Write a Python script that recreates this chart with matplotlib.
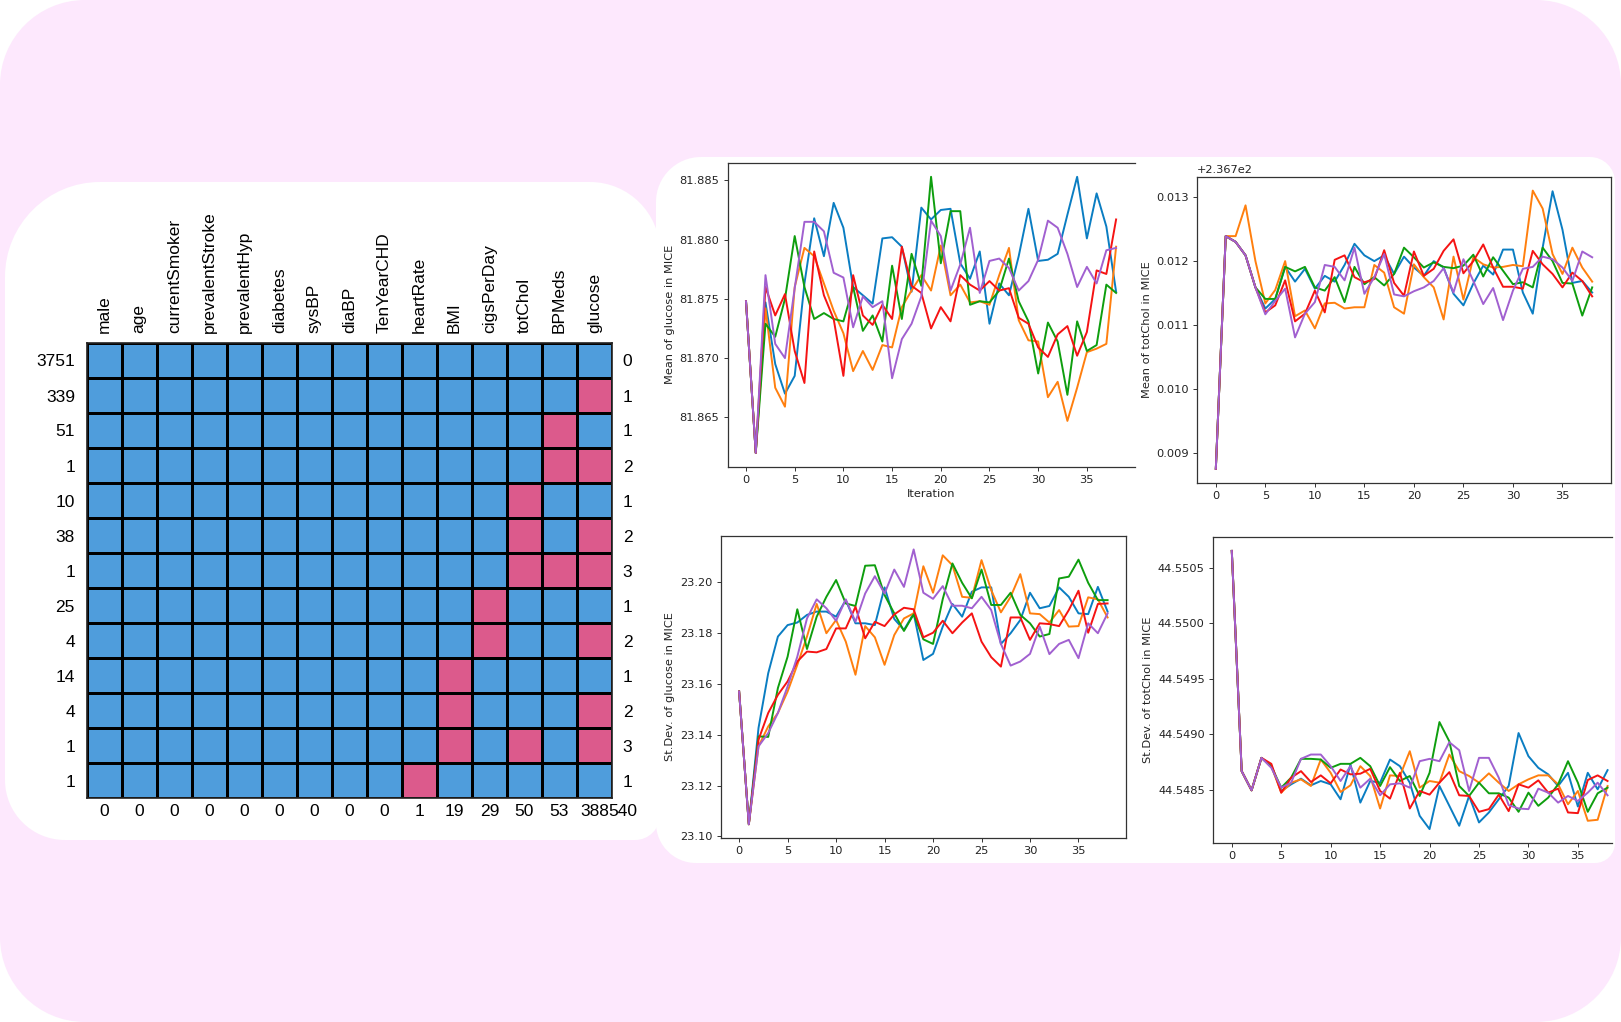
import numpy as np
import matplotlib
matplotlib.use("Agg")
import matplotlib.pyplot as plt
from matplotlib.path import Path
from matplotlib.patches import PathPatch
from matplotlib.colors import ListedColormap
from matplotlib.transforms import Affine2D

# ---------------- data ----------------
columns = ['male', 'age', 'currentSmoker', 'prevalentStroke', 'prevalentHyp',
           'diabetes', 'sysBP', 'diaBP', 'TenYearCHD', 'heartRate', 'BMI',
           'cigsPerDay', 'totChol', 'BPMeds', 'glucose']
pattern_counts = [3751, 339, 51, 1, 10, 38, 1, 25, 4, 14, 4, 1, 1]
pattern_missing = [[], ['glucose'], ['BPMeds'], ['BPMeds', 'glucose'],
                   ['totChol'], ['totChol', 'glucose'],
                   ['totChol', 'BPMeds', 'glucose'], ['cigsPerDay'],
                   ['cigsPerDay', 'glucose'], ['BMI'], ['BMI', 'glucose'],
                   ['BMI', 'totChol', 'glucose'], ['heartRate']]
row_missing = [0, 1, 1, 2, 1, 2, 3, 1, 2, 1, 2, 3, 1]
col_missing = [0, 0, 0, 0, 0, 0, 0, 0, 0, 1, 19, 29, 50, 53, 388]
total_missing = 540

iterations = list(range(39))

glucose_mean_blue = [81.8748, 81.8620, 81.8747, 81.8695, 81.8670, 81.8685, 81.8763, 81.8818, 81.8786, 81.8831, 81.8810, 81.8760, 81.8753, 81.8746, 81.8801, 81.8802, 81.8794, 81.8756, 81.8827, 81.8817, 81.8825, 81.8826, 81.8780, 81.8767, 81.8790, 81.8729, 81.8763, 81.8753, 81.8786, 81.8826, 81.8782, 81.8783, 81.8788, 81.8821, 81.8853, 81.8801, 81.8839, 81.8811, 81.8756]
glucose_mean_orange = [81.8748, 81.8620, 81.8742, 81.8675, 81.8659, 81.8760, 81.8793, 81.8786, 81.8763, 81.8740, 81.8721, 81.8689, 81.8706, 81.8690, 81.8711, 81.8709, 81.8743, 81.8757, 81.8770, 81.8757, 81.8795, 81.8753, 81.8762, 81.8747, 81.8748, 81.8745, 81.8770, 81.8793, 81.8732, 81.8715, 81.8714, 81.8667, 81.8680, 81.8647, 81.8675, 81.8705, 81.8708, 81.8712, 81.8794]
glucose_mean_green = [81.8748, 81.8620, 81.8729, 81.8718, 81.8750, 81.8803, 81.8760, 81.8733, 81.8738, 81.8733, 81.8731, 81.8760, 81.8723, 81.8736, 81.8714, 81.8778, 81.8733, 81.8788, 81.8761, 81.8853, 81.8780, 81.8824, 81.8824, 81.8745, 81.8748, 81.8747, 81.8757, 81.8784, 81.8748, 81.8731, 81.8687, 81.8730, 81.8714, 81.8669, 81.8731, 81.8706, 81.8711, 81.8762, 81.8755]
glucose_mean_red = [81.8748, 81.8620, 81.8760, 81.8736, 81.8754, 81.8706, 81.8679, 81.8790, 81.8753, 81.8733, 81.8685, 81.8770, 81.8736, 81.8728, 81.8745, 81.8733, 81.8794, 81.8761, 81.8755, 81.8725, 81.8743, 81.8731, 81.8770, 81.8762, 81.8757, 81.8765, 81.8757, 81.8759, 81.8734, 81.8729, 81.8709, 81.8701, 81.8720, 81.8727, 81.8702, 81.8722, 81.8774, 81.8771, 81.8817]
glucose_mean_purple = [81.8748, 81.8620, 81.8770, 81.8712, 81.8700, 81.8759, 81.8815, 81.8815, 81.8807, 81.8772, 81.8768, 81.8726, 81.8752, 81.8743, 81.8748, 81.8683, 81.8716, 81.8729, 81.8752, 81.8816, 81.8803, 81.8757, 81.8779, 81.8810, 81.8755, 81.8782, 81.8784, 81.8776, 81.8757, 81.8765, 81.8783, 81.8816, 81.8810, 81.8788, 81.8760, 81.8777, 81.8763, 81.8791, 81.8793]

totchol_mean_blue = [236.70876, 236.71239, 236.71230, 236.71209, 236.71159, 236.71126, 236.71141, 236.71191, 236.71168, 236.71188, 236.71157, 236.71177, 236.71168, 236.71194, 236.71227, 236.71209, 236.71200, 236.71209, 236.71180, 236.71207, 236.71190, 236.71177, 236.71200, 236.71190, 236.71149, 236.71131, 236.71165, 236.71193, 236.71179, 236.71218, 236.71218, 236.71151, 236.71118, 236.71221, 236.71309, 236.71249, 236.71166, 236.71169, 236.71151]
totchol_mean_orange = [236.70876, 236.71239, 236.71239, 236.71287, 236.71200, 236.71134, 236.71155, 236.71200, 236.71114, 236.71123, 236.71095, 236.71134, 236.71135, 236.71126, 236.71128, 236.71128, 236.71194, 236.71182, 236.71128, 236.71118, 236.71195, 236.71175, 236.71159, 236.71109, 236.71207, 236.71140, 236.71206, 236.71195, 236.71190, 236.71191, 236.71194, 236.71192, 236.71310, 236.71282, 236.71211, 236.71180, 236.71221, 236.71190, 236.71168]
totchol_mean_green = [236.70876, 236.71239, 236.71230, 236.71209, 236.71159, 236.71141, 236.71141, 236.71191, 236.71184, 236.71191, 236.71159, 236.71154, 236.71175, 236.71136, 236.71191, 236.71164, 236.71175, 236.71162, 236.71180, 236.71221, 236.71206, 236.71190, 236.71198, 236.71191, 236.71189, 236.71193, 236.71210, 236.71176, 236.71206, 236.71185, 236.71164, 236.71167, 236.71159, 236.71221, 236.71200, 236.71166, 236.71165, 236.71115, 236.71159]
totchol_mean_red = [236.70876, 236.71239, 236.71230, 236.71209, 236.71159, 236.71120, 236.71131, 236.71170, 236.71106, 236.71118, 236.71154, 236.71120, 236.71202, 236.71209, 236.71175, 236.71167, 236.71172, 236.71217, 236.71166, 236.71146, 236.71215, 236.71177, 236.71188, 236.71216, 236.71234, 236.71181, 236.71200, 236.71226, 236.71190, 236.71160, 236.71160, 236.71157, 236.71216, 236.71195, 236.71180, 236.71159, 236.71182, 236.71169, 236.71145]
totchol_mean_purple = [236.70876, 236.71239, 236.71230, 236.71209, 236.71159, 236.71117, 236.71138, 236.71157, 236.71081, 236.71118, 236.71136, 236.71194, 236.71191, 236.71170, 236.71221, 236.71149, 236.71175, 236.71211, 236.71148, 236.71145, 236.71153, 236.71159, 236.71169, 236.71189, 236.71151, 236.71203, 236.71169, 236.71133, 236.71158, 236.71108, 236.71154, 236.71188, 236.71191, 236.71207, 236.71203, 236.71190, 236.71169, 236.71215, 236.71206]

glucose_std_blue = [23.1569, 23.1048, 23.1426, 23.1641, 23.1785, 23.1830, 23.1840, 23.1870, 23.1883, 23.1883, 23.1863, 23.1928, 23.1837, 23.1837, 23.1830, 23.1978, 23.1854, 23.1811, 23.1876, 23.1693, 23.1717, 23.1824, 23.1913, 23.1863, 23.1961, 23.1978, 23.1978, 23.1756, 23.1798, 23.1850, 23.1957, 23.1896, 23.1905, 23.1978, 23.1941, 23.1876, 23.1873, 23.1980, 23.1883]
glucose_std_orange = [23.1569, 23.1048, 23.1354, 23.1432, 23.1485, 23.1569, 23.1674, 23.1785, 23.1913, 23.1798, 23.1850, 23.1765, 23.1635, 23.1826, 23.1782, 23.1674, 23.1791, 23.1856, 23.1876, 23.2061, 23.1957, 23.2104, 23.2065, 23.1941, 23.1937, 23.2085, 23.1967, 23.1880, 23.1941, 23.2030, 23.1876, 23.1873, 23.1840, 23.1889, 23.1824, 23.1826, 23.1939, 23.1931, 23.1860]
glucose_std_green = [23.1569, 23.1048, 23.1393, 23.1391, 23.1583, 23.1706, 23.1892, 23.1736, 23.1863, 23.1941, 23.2007, 23.1915, 23.1905, 23.2063, 23.2065, 23.1948, 23.1876, 23.1807, 23.1872, 23.1774, 23.1756, 23.1932, 23.2072, 23.1996, 23.1935, 23.2048, 23.1909, 23.1909, 23.1957, 23.1870, 23.1837, 23.1785, 23.1795, 23.2013, 23.2020, 23.2087, 23.1996, 23.1928, 23.1928]
glucose_std_red = [23.1569, 23.1048, 23.1380, 23.1485, 23.1556, 23.1609, 23.1687, 23.1726, 23.1723, 23.1736, 23.1817, 23.1817, 23.1902, 23.1778, 23.1843, 23.1826, 23.1872, 23.1898, 23.1892, 23.1782, 23.1800, 23.1847, 23.1798, 23.1840, 23.1876, 23.1765, 23.1704, 23.1667, 23.1860, 23.1860, 23.1772, 23.1837, 23.1834, 23.1826, 23.1889, 23.1965, 23.1800, 23.1913, 23.1915]
glucose_std_purple = [23.1569, 23.1048, 23.1354, 23.1406, 23.1485, 23.1589, 23.1706, 23.1856, 23.1931, 23.1896, 23.1847, 23.1931, 23.1843, 23.1954, 23.2022, 23.1954, 23.2048, 23.1980, 23.2127, 23.1957, 23.1933, 23.1983, 23.1906, 23.1906, 23.1896, 23.1941, 23.1889, 23.1756, 23.1671, 23.1687, 23.1717, 23.1824, 23.1716, 23.1756, 23.1772, 23.1700, 23.1837, 23.1798, 23.1876]

totchol_std_blue = [44.550655, 44.548667, 44.548494, 44.548787, 44.548712, 44.548488, 44.548548, 44.548599, 44.548539, 44.548578, 44.548548, 44.548413, 44.548727, 44.548383, 44.548578, 44.548563, 44.548772, 44.548712, 44.548563, 44.548264, 44.548144, 44.548533, 44.548354, 44.548174, 44.548443, 44.548204, 44.548294, 44.548413, 44.548533, 44.549011, 44.548802, 44.548697, 44.548638, 44.548533, 44.548652, 44.548348, 44.548652, 44.548503, 44.548676]
totchol_std_orange = [44.550655, 44.548667, 44.548494, 44.548787, 44.548712, 44.548473, 44.548563, 44.548593, 44.548533, 44.548772, 44.548652, 44.548479, 44.548539, 44.548712, 44.548623, 44.548330, 44.548629, 44.548623, 44.548847, 44.548518, 44.548578, 44.548563, 44.548817, 44.548667, 44.548623, 44.548563, 44.548647, 44.548563, 44.548488, 44.548548, 44.548593, 44.548629, 44.548629, 44.548548, 44.548368, 44.548488, 44.548219, 44.548228, 44.548533]
totchol_std_green = [44.550655, 44.548667, 44.548494, 44.548787, 44.548712, 44.548518, 44.548608, 44.548778, 44.548778, 44.548772, 44.548697, 44.548733, 44.548733, 44.548787, 44.548712, 44.548533, 44.548703, 44.548578, 44.548623, 44.548443, 44.548652, 44.549110, 44.548936, 44.548533, 44.548443, 44.548563, 44.548467, 44.548467, 44.548428, 44.548300, 44.548473, 44.548354, 44.548428, 44.548548, 44.548757, 44.548563, 44.548300, 44.548467, 44.548518]
totchol_std_red = [44.550655, 44.548667, 44.548494, 44.548787, 44.548733, 44.548473, 44.548608, 44.548667, 44.548569, 44.548629, 44.548557, 44.548682, 44.548638, 44.548644, 44.548688, 44.548488, 44.548419, 44.548652, 44.548330, 44.548488, 44.548455, 44.548563, 44.548658, 44.548449, 44.548443, 44.548300, 44.548324, 44.548455, 44.548306, 44.548548, 44.548518, 44.548584, 44.548473, 44.548509, 44.548294, 44.548288, 44.548587, 44.548629, 44.548578]
totchol_std_purple = [44.550655, 44.548667, 44.548494, 44.548787, 44.548697, 44.548518, 44.548563, 44.548778, 44.548817, 44.548817, 44.548712, 44.548578, 44.548712, 44.548518, 44.548599, 44.548449, 44.548548, 44.548557, 44.548518, 44.548757, 44.548778, 44.548757, 44.548928, 44.548856, 44.548488, 44.548787, 44.548787, 44.548608, 44.548360, 44.548330, 44.548324, 44.548509, 44.548473, 44.548383, 44.548443, 44.548398, 44.548473, 44.548563, 44.548449]

# ---------------- style ----------------
W, H = 1621, 1022
PINK_BG = '#fde8fd'
CELL_BLUE = '#4f9ddc'
CELL_PINK = '#dc5a8c'
line_colors = ['#0a7dc2', '#ff7f0e', '#0e9e0e', '#f51313', '#a160d0']

plt.rcParams.update({
    'font.family': ['DejaVu Sans'],
    'font.size': 8.2,
    'axes.linewidth': 0.9,
    'axes.edgecolor': '#333333',
    'xtick.major.size': 3.0, 'ytick.major.size': 3.0,
    'xtick.major.width': 0.7, 'ytick.major.width': 0.7,
    'xtick.major.pad': 2.9, 'ytick.major.pad': 2.9,
    'xtick.color': '#333333', 'ytick.color': '#333333',
    'xtick.labelcolor': '#222222', 'ytick.labelcolor': '#222222',
    'axes.labelpad': 3.3,
    'axes.labelcolor': '#222222',
})

fig = plt.figure(figsize=(W / 100, H / 100), dpi=100, facecolor='white')
px = Affine2D().scale(1.0 / W, 1.0 / H) + fig.transFigure


def panel(x0, y0, x1, y1, r_tl, r_tr, r_br, r_bl, color):
    k = 0.5523
    top, bot = H - y0, H - y1
    v = [(x0 + r_tl, top), (x1 - r_tr, top),
         (x1 - r_tr + k * r_tr, top), (x1, top - r_tr + k * r_tr), (x1, top - r_tr),
         (x1, bot + r_br),
         (x1, bot + r_br - k * r_br), (x1 - r_br + k * r_br, bot), (x1 - r_br, bot),
         (x0 + r_bl, bot),
         (x0 + r_bl - k * r_bl, bot), (x0, bot + r_bl - k * r_bl), (x0, bot + r_bl),
         (x0, top - r_tl),
         (x0, top - r_tl + k * r_tl), (x0 + r_tl - k * r_tl, top), (x0 + r_tl, top),
         (x0 + r_tl, top)]
    c = [Path.MOVETO, Path.LINETO,
         Path.CURVE4, Path.CURVE4, Path.CURVE4,
         Path.LINETO,
         Path.CURVE4, Path.CURVE4, Path.CURVE4,
         Path.LINETO,
         Path.CURVE4, Path.CURVE4, Path.CURVE4,
         Path.LINETO,
         Path.CURVE4, Path.CURVE4, Path.CURVE4,
         Path.CLOSEPOLY]
    p = PathPatch(Path(v, c), facecolor=color, edgecolor='none',
                  transform=px, zorder=-10)
    fig.add_artist(p)


panel(0, 0, W, H, 85, 85, 85, 85, PINK_BG)
panel(656, 157, 1615, 863, 45, 25, 20, 40, 'white')
panel(5, 182, 660, 840, 95, 70, 25, 60, 'white')

# ---------------- missing-pattern heatmap ----------------
hx0, hy0, hx1, hy1 = 86.7, 343, 612, 798
axh = fig.add_axes([hx0 / W, 1 - hy1 / H, (hx1 - hx0) / W, (hy1 - hy0) / H])
axh.patch.set_alpha(0)
M = np.array([[1 if c in miss else 0 for c in columns] for miss in pattern_missing])
axh.pcolormesh(M, cmap=ListedColormap([CELL_BLUE, CELL_PINK]), vmin=0, vmax=1,
               edgecolors='black', linewidth=1.0)
axh.set_xlim(0, len(columns))
axh.set_ylim(len(pattern_counts), 0)
for s in axh.spines.values():
    s.set_color('#222222')
    s.set_linewidth(1.2)

hfont = dict(family=['Liberation Sans', 'DejaVu Sans'], fontsize=12.5)
axh.xaxis.tick_top()
axh.set_xticks(np.arange(len(columns)) + 0.5)
axh.set_xticklabels(columns, rotation=90, **hfont)
axh.set_yticks(np.arange(len(pattern_counts)) + 0.5)
axh.set_yticklabels([str(n) for n in pattern_counts], **hfont)
axh.tick_params(axis='x', length=0, pad=7)
axh.tick_params(axis='y', length=0, pad=8.5)
for lab in axh.get_xticklabels() + axh.get_yticklabels():
    lab.set_color('black')

for i, n in enumerate(row_missing):
    axh.annotate(str(n), xy=(1, i + 0.5), xycoords=('axes fraction', 'data'),
                 xytext=(15.5, 0), textcoords='offset pixels',
                 ha='center', va='center_baseline', color='black', **hfont)
for j, n in enumerate(col_missing):
    axh.annotate(str(n), xy=(j + 0.5, 0), xycoords=('data', 'axes fraction'),
                 xytext=(0, -6), textcoords='offset pixels',
                 ha='center', va='top', color='black', **hfont)
axh.annotate(str(total_missing), xy=(1, 0), xycoords='axes fraction',
             xytext=(11, -6), textcoords='offset pixels',
             ha='center', va='top', color='black', **hfont)


# ---------------- convergence line plots ----------------
def line_axes(l, t, r, b, series, ylabel, xlabel=None, hide_right=False, xlim=None):
    ax = fig.add_axes([l / W, 1 - b / H, (r - l) / W, (b - t) / H])
    for vals, col in zip(series, line_colors):
        ax.plot(iterations, vals, color=col, lw=1.4)
    ax.set_ylabel(ylabel)
    if xlabel:
        ax.set_xlabel(xlabel)
    if hide_right:
        ax.spines['right'].set_visible(False)
    if xlim is not None:
        ax.set_xlim(*xlim)
    ax.set_xticks([0, 5, 10, 15, 20, 25, 30, 35])
    return ax


line_axes(727.5, 163, 1134.6, 466.7,
          [glucose_mean_blue, glucose_mean_orange, glucose_mean_green,
           glucose_mean_red, glucose_mean_purple],
          'Mean of glucose in MICE', xlabel='Iteration', hide_right=True)

line_axes(1197, 176.7, 1611, 482.7,
          [totchol_mean_blue, totchol_mean_orange, totchol_mean_green,
           totchol_mean_red, totchol_mean_purple],
          'Mean of totChol in MICE')

line_axes(720.7, 535.7, 1126, 838,
          [glucose_std_blue, glucose_std_orange, glucose_std_green,
           glucose_std_red, glucose_std_purple],
          'St.Dev. of glucose in MICE')

line_axes(1213, 537, 1612, 843,
          [totchol_std_blue, totchol_std_orange, totchol_std_green,
           totchol_std_red, totchol_std_purple],
          'St.Dev. of totChol in MICE', hide_right=True, xlim=(-1.9, 38.45))

fig.savefig('out.png', dpi=100, facecolor='white')
